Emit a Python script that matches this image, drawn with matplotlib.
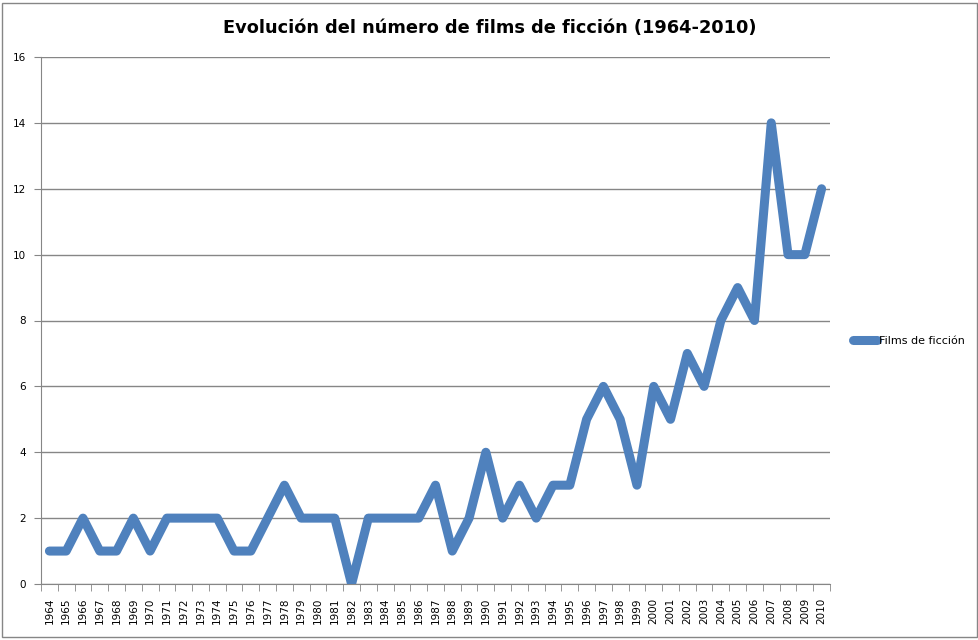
import numpy as np
import matplotlib.pyplot as plt
from matplotlib.patches import Rectangle

anios = list(range(1964, 2011))
films = [1, 1, 2, 1, 1, 2, 1, 2, 2, 2,
         2, 1, 1, 2, 3, 2, 2, 2, 0, 2,
         2, 2, 2, 3, 1, 2, 4, 2, 3, 2,
         3, 3, 5, 6, 5, 3, 6, 5, 7, 6,
         8, 9, 8, 14, 10, 10, 12]

azul = '#4F81BD'
gris = '#868686'

fig = plt.figure(figsize=(9.79, 6.4), dpi=100)
ax = fig.add_axes([41/979, 1 - 584/640, (830 - 41)/979, (584 - 57)/640])

x = np.arange(len(anios))
ax.plot(x, films, color=azul, linewidth=6.5, solid_joinstyle='round',
        solid_capstyle='round', label='Films de ficción', zorder=3)

ax.set_xlim(-0.5, len(anios) - 0.5)
ax.set_ylim(0, 16)
ax.set_yticks(range(0, 17, 2))
ax.yaxis.grid(True, color=gris, linewidth=1)
ax.set_axisbelow(True)

ax.set_xticks(x)
ax.set_xticklabels([str(a) for a in anios], rotation=90, fontsize=7.5)
ax.set_xticks(np.arange(-0.5, len(anios), 1), minor=True)
ax.tick_params(axis='x', which='major', length=0, pad=10)
ax.tick_params(axis='x', which='minor', length=5, color=gris, direction='out')
ax.tick_params(axis='y', length=5, color=gris, labelsize=7.5, pad=6)

for s in ['top', 'right']:
    ax.spines[s].set_visible(False)
for s in ['left', 'bottom']:
    ax.spines[s].set_color(gris)

fig.text(490/979, 1 - 28/640, 'Evolución del número de films de ficción (1964-2010)',
         ha='center', va='center', fontsize=12.8, fontweight='bold')

fig.legend(loc='center left', bbox_to_anchor=(843/979, 1 - 341/640), frameon=False,
           fontsize=8, handlelength=2.2, handletextpad=0.1)

fig.patches.append(Rectangle((2/979, 3/640), 975/979, 634/640, transform=fig.transFigure,
                             fill=False, edgecolor=gris, linewidth=1))

fig.savefig('out.png', dpi=100)
